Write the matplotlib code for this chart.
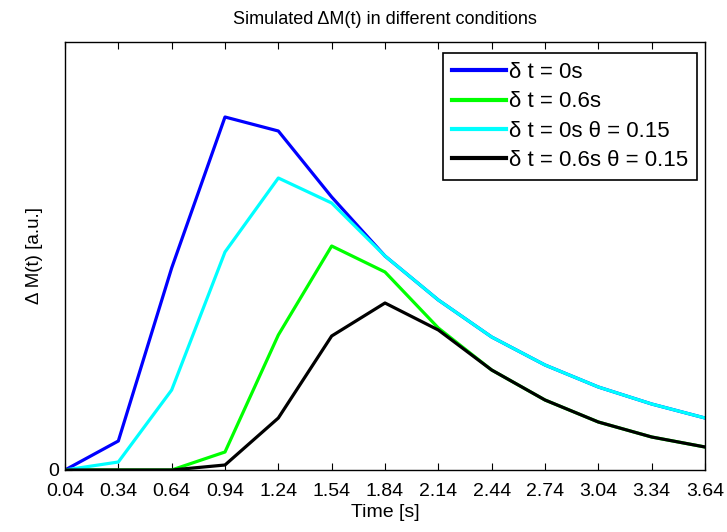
import matplotlib
matplotlib.use("Agg")
import matplotlib.pyplot as plt

plt.rcParams['font.family'] = ['Liberation Sans', 'DejaVu Sans']

time = [0.04, 0.34, 0.64, 0.94, 1.24, 1.54, 1.84, 2.14, 2.44, 2.74, 3.04, 3.34, 3.64]
tick_labels = ["0.04", "0.34", "0.64", "0.94", "1.24", "1.54", "1.84", "2.14", "2.44", "2.74", "3.04", "3.34", "3.64"]

dt0 = [0, 29, 202, 353, 339, 273, 214, 170, 133, 105, 83, 66, 52]
dt06 = [0, 0, 0, 18, 135, 224, 198, 142, 100, 70, 48, 33, 23]
dt0_theta = [0, 8, 80, 218, 292, 267, 214, 170, 133, 105, 83, 66, 52]
dt06_theta = [0, 0, 0, 5, 52, 134, 167, 140, 100, 70, 48, 33, 23]

labels = ["δ t = 0s", "δ t = 0.6s", "δ t = 0s θ = 0.15", "δ t = 0.6s θ = 0.15"]
colors = ["#0000ff", "#00ff00", "#00ffff", "#000000"]

fig = plt.figure(figsize=(7.27, 5.32), dpi=100)
ax = fig.add_axes([65/727, 1-470/532, (705-65)/727, (470-42)/532])

for y, c, l in zip([dt0, dt06, dt0_theta, dt06_theta], colors, labels):
    ax.plot(time, y, color=c, lw=2.3, label=l)

ax.set_xlim(0.04, 3.64)
ax.set_ylim(0, 428)
ax.set_xticks(time)
ax.set_xticklabels(tick_labels)
ax.set_yticks([0])
ax.set_yticklabels(["0"])
ax.tick_params(direction='in', top=True, right=False, labelsize=14, length=5, width=0.8)
ax.tick_params(axis='x', pad=9)
ax.tick_params(axis='y', pad=4)
for s in ax.spines.values():
    s.set_linewidth(1.0)

ax.set_title("Simulated ΔM(t) in different conditions", fontsize=13, pad=13)
ax.set_xlabel("Time [s]", fontsize=14, labelpad=3)
ax.set_ylabel("Δ M(t) [a.u.]", fontsize=13.5, labelpad=4)

leg = ax.legend(loc='upper right', fontsize=16, frameon=True, fancybox=False,
                framealpha=1, edgecolor='black', handlelength=2.4, handletextpad=0.15,
                borderpad=0.4, labelspacing=0.38, borderaxespad=0,
                bbox_to_anchor=((697-65)/640, (470-53)/428))
leg.get_frame().set_linewidth(1.2)
for line in leg.get_lines():
    line.set_linewidth(3)

fig.savefig("out.png", dpi=100)
